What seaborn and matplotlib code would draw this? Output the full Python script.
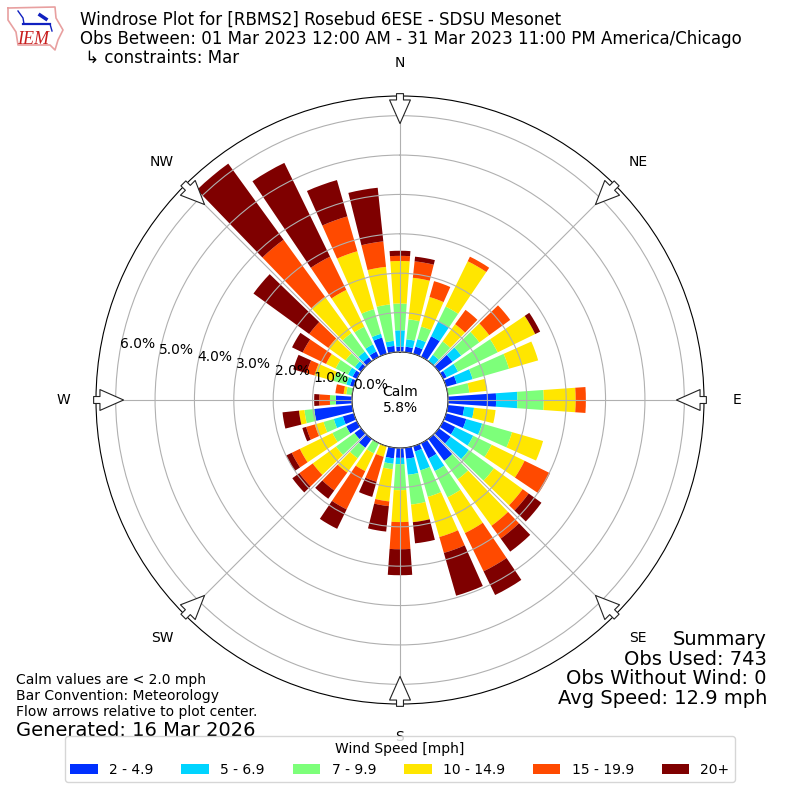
import numpy as np
import pandas as pd
import matplotlib
matplotlib.use('Agg')
import matplotlib.pyplot as plt
import seaborn as sns

directions = list(range(0, 360, 10))

# percent of obs, cumulative out from the centre, one value per 10 degree direction
top_2_5 = [.135,.14,.19,.58,0,.43,.1,.28,0,1.22,.42,.53,.34,.37,.69,.43,.14,.28,
           .25,.27,0,0,.28,.21,.3,.29,.97,.41,0,.1,.12,.1,.12,.15,.43,.16]
top_5_7 = [.55,.33,.39,1.0,.2,.7,.42,.7,0,1.76,.67,.95,.85,.94,.69,.79,.64,.69,
           .41,.41,0,0,.28,.21,.3,.53,.97,.41,0,.2,.25,.2,.3,.35,.53,.29]
top_7_10 = [1.23,.84,.72,1.42,.62,1.27,1.54,1.66,.55,2.43,.67,1.74,1.37,1.73,1.27,1.53,1.34,1.45,
            1.07,.55,0,.29,.61,.79,.69,.8,1.22,.56,.15,.54,.6,.49,.88,.85,1.18,1.22]
top_10_15 = [2.31,1.9,1.5,2.7,1.16,1.58,2.6,2.43,1.0,3.24,1.22,2.56,2.3,2.63,2.73,2.54,2.4,1.9,
             1.88,1.37,.28,.79,1.06,1.52,1.61,1.03,1.36,.56,.22,1.04,.87,1.03,2.02,1.89,2.71,2.18]
top_15_20 = [2.44,2.32,1.92,2.83,1.61,2.24,2.6,2.43,1.0,3.5,1.22,2.56,3.02,2.82,3.13,3.62,2.82,1.9,
             2.57,1.49,.94,1.87,1.62,1.94,1.84,1.26,1.36,.83,.43,1.25,1.53,1.63,3.81,2.83,3.63,2.83]
top_20 = [2.57,2.44,1.92,2.83,1.61,2.24,2.74,2.43,1.0,3.5,1.22,2.56,3.02,3.22,3.54,4.29,3.95,2.44,
          3.23,2.14,1.34,2.42,1.88,2.16,2.0,1.36,1.78,.96,.43,1.6,1.83,3.38,6.2,5.48,4.59,4.2]

bin_labels = ['2 - 4.9', '5 - 6.9', '7 - 9.9', '10 - 14.9', '15 - 19.9', '20+']
bin_colors = ['#0030ff', '#00d4ff', '#7dff7a', '#ffe600', '#ff4a00', '#7f0000']
r_ticks = [0, 1, 2, 3, 4, 5, 6]
compass = ['N', 'NE', 'E', 'SE', 'S', 'SW', 'W', 'NW']
compass_deg = [0, 45, 90, 135, 180, 225, 270, 315]

tops = [top_2_5, top_5_7, top_7_10, top_10_15, top_15_20, top_20]

fig = plt.figure(figsize=(8, 8), dpi=100)
ax = fig.add_axes([96/800, 96/800, 608/800, 608/800], projection='polar')
ax.set_theta_zero_location('N')
ax.set_theta_direction(-1)

theta = np.deg2rad(directions)
prev = np.zeros(len(directions))
for i in range(6):
    top = np.array(tops[i])
    df = pd.DataFrame({'theta': theta, 'pct': top - prev})
    sns.barplot(data=df, x='theta', y='pct', bottom=prev, native_scale=True, width=0.8,
                color=bin_colors[i], saturation=1, errorbar=None, label=bin_labels[i],
                legend=False, linewidth=0, ax=ax, zorder=2)
    prev = top

ax.set_xlabel('')
ax.set_ylabel('')
ax.set_thetalim(0, 2*np.pi)
ax.set_ylim(0, 6.5)
ax.set_rorigin(-1.22)
ax.set_thetagrids(compass_deg, compass, fontsize=10)
ax.tick_params(axis='x', pad=13)
ax.set_rticks(r_ticks)
ax.set_yticklabels(['%.1f%%' % t for t in r_ticks], fontsize=10)
ax.set_rlabel_position(280)
ax.grid(True, color='#b0b0b0', lw=0.8)
ax.set_axisbelow(False)

# flow arrows on the rim
for d in compass_deg:
    t = np.deg2rad(d)
    ax.annotate('', xy=(t, 5.8), xytext=(t, 6.56), annotation_clip=False, zorder=5,
                arrowprops=dict(facecolor='white', edgecolor='#222222', width=5, headwidth=15,
                                headlength=17, shrink=0, lw=0.8))

ax.text(0, -1.22, 'Calm\n5.8%', ha='center', va='center', fontsize=10, zorder=6)

fig.text(80/800, 1-11/800,
         'Windrose Plot for [RBMS2] Rosebud 6ESE - SDSU Mesonet\n'
         'Obs Between: 01 Mar 2023 12:00 AM - 31 Mar 2023 11:00 PM America/Chicago\n'
         ' \u21b3 constraints: Mar', ha='left', va='top', fontsize=12, linespacing=1.05)

fig.text(16/800, 1-673/800,
         'Calm values are < 2.0 mph\nBar Convention: Meteorology\nFlow arrows relative to plot center.',
         ha='left', va='top', fontsize=10)
fig.text(16/800, 1-730/800, 'Generated: 16 Mar 2026', ha='left', va='center', fontsize=14)
fig.text(767/800, 1-630/800, 'Summary\nObs Used: 743\nObs Without Wind: 0\nAvg Speed: 12.9 mph',
         ha='right', va='top', fontsize=14, linespacing=1.05)

h, l = ax.get_legend_handles_labels()
fig.legend(h, l, title='Wind Speed [mph]', ncol=6, loc='lower center',
           bbox_to_anchor=(0.5, 1-789/800), fontsize=10, title_fontsize=10)

# IEM logo
logo = fig.add_axes([0, 1-70/800, 130/800, 70/800])
logo.set_xlim(0, 130)
logo.set_ylim(70, 0)
logo.axis('off')
logo.plot([8, 55, 56, 63, 58, 55, 50, 18, 16, 8, 8], [8, 7, 18, 30, 40, 50, 45, 45, 32, 20, 8],
          color='#e8a0a0', lw=1.2)
logo.plot([23, 50], [24, 24], color='#1020c0', lw=1.6)
logo.plot([18, 23, 24], [11, 18, 24], color='#1020c0', lw=1.0)
logo.plot([40, 46], [15, 19], color='#1020c0', lw=2.5)
logo.plot([50, 52], [24, 31], color='#1020c0', lw=1.0)
logo.text(33, 39, 'IEM', color='#c81e1e', fontsize=13, family='Liberation Serif', style='italic',
          ha='center', va='center')

fig.savefig('out.png', dpi=100)
